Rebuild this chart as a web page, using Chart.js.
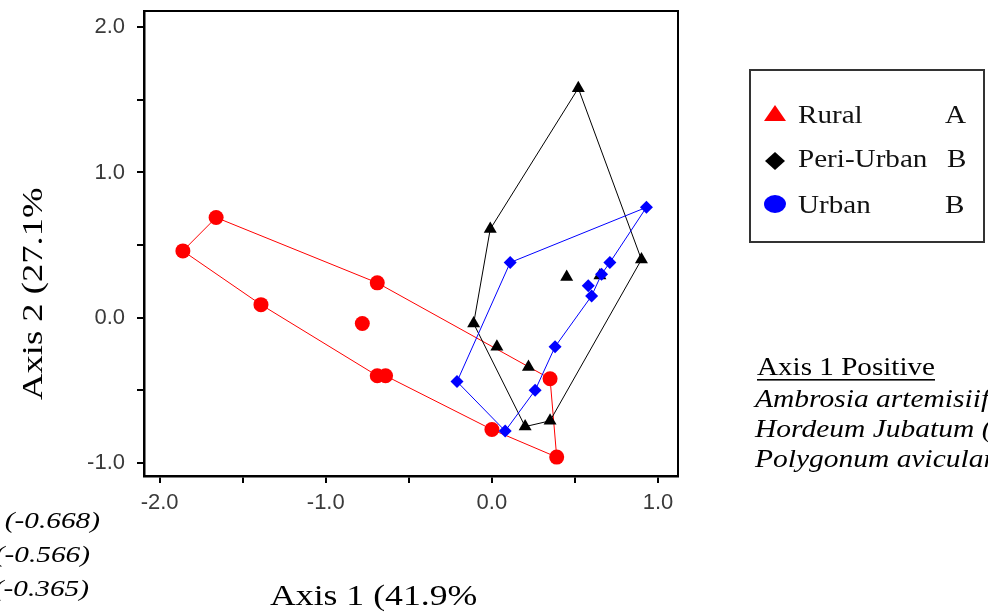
<!DOCTYPE html>
<html>
<head>
<meta charset="utf-8">
<script src="https://cdn.jsdelivr.net/npm/chart.js@4.4.1/dist/chart.umd.min.js"></script>
<style>
  html, body { margin: 0; padding: 0; background: #fff; }
</style>
</head>
<body>
<canvas id="ordination" width="988" height="613"></canvas>
<script>
// site scores on the first two ordination axes
const ruralX = [-1.66, -1.86, -0.69, -1.39, -0.78, -0.69, -0.64, 0.35, 0.00, 0.39]
const ruralY = [0.69, 0.46, 0.24, 0.09, -0.04, -0.40, -0.40, -0.42, -0.77, -0.96]
const periX = [0.52, -0.01, 0.90, 0.45, 0.65, -0.11, 0.03, 0.22, 0.35, 0.20]
const periY = [1.58, 0.61, 0.40, 0.28, 0.29, -0.04, -0.20, -0.34, -0.71, -0.75]
const urbanX = [0.93, 0.11, 0.71, 0.66, 0.58, 0.60, 0.38, -0.21, 0.26, 0.08]
const urbanY = [0.76, 0.38, 0.38, 0.30, 0.22, 0.15, -0.20, -0.44, -0.50, -0.78]

// outline of each group (indices into the arrays above)
const ruralHull = [0, 2, 7, 9, 8, 6, 5, 3, 1, 0]
const periHull = [0, 2, 8, 9, 5, 1, 0]
const urbanHull = [0, 2, 3, 5, 6, 8, 9, 7, 1, 0]

const xTickValues = [-2, -1.5, -1, -0.5, 0, 0.5, 1]
const xTickLabels = ['-2.0', '', '-1.0', '', '0.0', '', '1.0']
const yTickValues = [-1, -0.5, 0, 0.5, 1, 1.5, 2]
const yTickLabels = ['-1.0', '', '0.0', '', '1.0', '', '2.0']

const legendNames = ['Rural', 'Peri-Urban', 'Urban']
const legendGroups = ['A', 'B', 'B']

const negativeLoadings = ['(-0.668)', '(-0.566)', '(-0.365)']
const positiveSpecies = ['Ambrosia artemisiifolia', 'Hordeum Jubatum (', 'Polygonum aviculare']

const toPoints = (xs, ys) => xs.map((x, i) => ({ x, y: ys[i] }))
const toOutline = (xs, ys, idx) => idx.map(i => ({ x: xs[i], y: ys[i] }))

const SERIF = '"Liberation Serif", "Times New Roman", serif'

function stretchedText (ctx, text, x, y, font, k, align) {
  ctx.save()
  ctx.font = font
  ctx.textAlign = align || 'left'
  ctx.textBaseline = 'alphabetic'
  ctx.translate(x, y)
  ctx.scale(k, 1)
  ctx.fillText(text, 0, 0)
  ctx.restore()
}

const annotations = {
  id: 'annotations',
  afterDraw (chart) {
    const ctx = chart.ctx
    const area = chart.chartArea

    // frame around the plot
    ctx.save()
    ctx.strokeStyle = '#000'
    ctx.lineWidth = 2
    ctx.strokeRect(area.left, area.top, area.right - area.left, area.bottom - area.top)
    ctx.restore()

    ctx.fillStyle = '#000'
    // axis titles
    stretchedText(ctx, 'Axis 1 (41.9%', 270, 605, '30px ' + SERIF, 1.19)
    ctx.save()
    ctx.translate(42, 400)
    ctx.rotate(-Math.PI / 2)
    stretchedText(ctx, 'Axis 2 (27.1%', 0, 0, '30px ' + SERIF, 1.22)
    ctx.restore()

    // loadings on the left edge
    const rightEdges = [100, 90, 89]
    negativeLoadings.forEach((t, i) => {
      stretchedText(ctx, t, rightEdges[i], 528 + i * 34, 'italic 24px ' + SERIF, 1.22, 'right')
    })

    // positive loadings block
    stretchedText(ctx, 'Axis 1 Positive', 757, 375, '25px ' + SERIF, 1.165)
    ctx.fillRect(757, 379, 178, 1.6)
    positiveSpecies.forEach((t, i) => {
      stretchedText(ctx, t, 755, 407 + i * 30, 'italic 25px ' + SERIF, 1.18)
    })

    // legend box
    ctx.save()
    ctx.strokeStyle = '#333'
    ctx.lineWidth = 2
    ctx.strokeRect(750, 70, 234, 172)
    ctx.restore()

    const rows = [123, 167, 213]
    // red triangle
    ctx.fillStyle = '#ff0000'
    ctx.beginPath()
    ctx.moveTo(764, 121)
    ctx.lineTo(786, 121)
    ctx.lineTo(775, 105)
    ctx.closePath()
    ctx.fill()
    // black diamond
    ctx.fillStyle = '#000'
    ctx.beginPath()
    ctx.moveTo(765, 161)
    ctx.lineTo(775, 152)
    ctx.lineTo(785, 161)
    ctx.lineTo(775, 170)
    ctx.closePath()
    ctx.fill()
    // blue dot
    ctx.fillStyle = '#0000ff'
    ctx.beginPath()
    ctx.ellipse(775, 204, 11, 9, 0, 0, Math.PI * 2)
    ctx.fill()

    ctx.fillStyle = '#111'
    const groupX = [945, 947, 945]
    legendNames.forEach((name, i) => {
      stretchedText(ctx, name, 798, rows[i], '26px ' + SERIF, 1.12)
      stretchedText(ctx, legendGroups[i], groupX[i], rows[i], '26px ' + SERIF, 1.12)
    })
  }
}

const tickFont = { family: '"Liberation Sans", Arial, sans-serif', size: 22 }

// eslint-disable-next-line no-unused-vars, no-undef
const chart = new Chart(document.querySelector('#ordination'), {
  type: 'scatter',
  data: {
    datasets: [
      {
        label: 'Urban',
        data: toPoints(urbanX, urbanY),
        pointStyle: 'rectRot',
        pointRadius: 6.5,
        backgroundColor: '#0000ff',
        borderColor: '#0000ff',
        borderWidth: 0,
        order: 0
      },
      {
        label: 'Urban outline',
        data: toOutline(urbanX, urbanY, urbanHull),
        showLine: true,
        pointRadius: 0,
        borderColor: '#0000ff',
        borderWidth: 1,
        order: 1
      },
      {
        label: 'Peri-Urban',
        data: toPoints(periX, periY),
        pointStyle: 'triangle',
        pointRadius: 7.5,
        backgroundColor: '#000',
        borderColor: '#000',
        borderWidth: 0,
        order: 2
      },
      {
        label: 'Peri-Urban outline',
        data: toOutline(periX, periY, periHull),
        showLine: true,
        pointRadius: 0,
        borderColor: '#000',
        borderWidth: 1,
        order: 3
      },
      {
        label: 'Rural',
        data: toPoints(ruralX, ruralY),
        pointStyle: 'circle',
        pointRadius: 7.5,
        backgroundColor: '#ff0000',
        borderColor: '#ff0000',
        borderWidth: 0,
        order: 4
      },
      {
        label: 'Rural outline',
        data: toOutline(ruralX, ruralY, ruralHull),
        showLine: true,
        pointRadius: 0,
        borderColor: '#ff0000',
        borderWidth: 1,
        order: 5
      }
    ]
  },
  options: {
    responsive: false,
    animation: false,
    devicePixelRatio: 1,
    layout: { padding: { top: 11, right: 310, left: 0, bottom: 0 } },
    scales: {
      x: {
        type: 'linear',
        min: -2.094,
        max: 1.12,
        afterBuildTicks: scale => { scale.ticks = xTickValues.map(v => ({ value: v })) },
        afterFit: scale => {
          scale.height = 137
          scale.paddingLeft = 0
          scale.paddingRight = 0
        },
        border: { display: true, color: '#000', width: 2.5 },
        grid: { drawOnChartArea: false, drawTicks: true, tickLength: 7, color: '#000', lineWidth: 2 },
        ticks: {
          callback: (v, i) => xTickLabels[i],
          font: tickFont,
          color: '#3a3a3a',
          padding: 7,
          maxRotation: 0,
          autoSkip: false
        }
      },
      y: {
        type: 'linear',
        min: -1.09,
        max: 2.112,
        afterBuildTicks: scale => { scale.ticks = yTickValues.map(v => ({ value: v })) },
        afterFit: scale => {
          scale.width = 144
          scale.paddingTop = 0
          scale.paddingBottom = 0
        },
        border: { display: true, color: '#000', width: 2.5 },
        grid: { drawOnChartArea: false, drawTicks: true, tickLength: 7, color: '#000', lineWidth: 2 },
        ticks: {
          callback: (v, i) => yTickLabels[i],
          font: tickFont,
          color: '#3a3a3a',
          padding: 12,
          autoSkip: false
        }
      }
    },
    plugins: {
      legend: { display: false },
      tooltip: { enabled: false }
    }
  },
  plugins: [annotations]
})
</script>
</body>
</html>
